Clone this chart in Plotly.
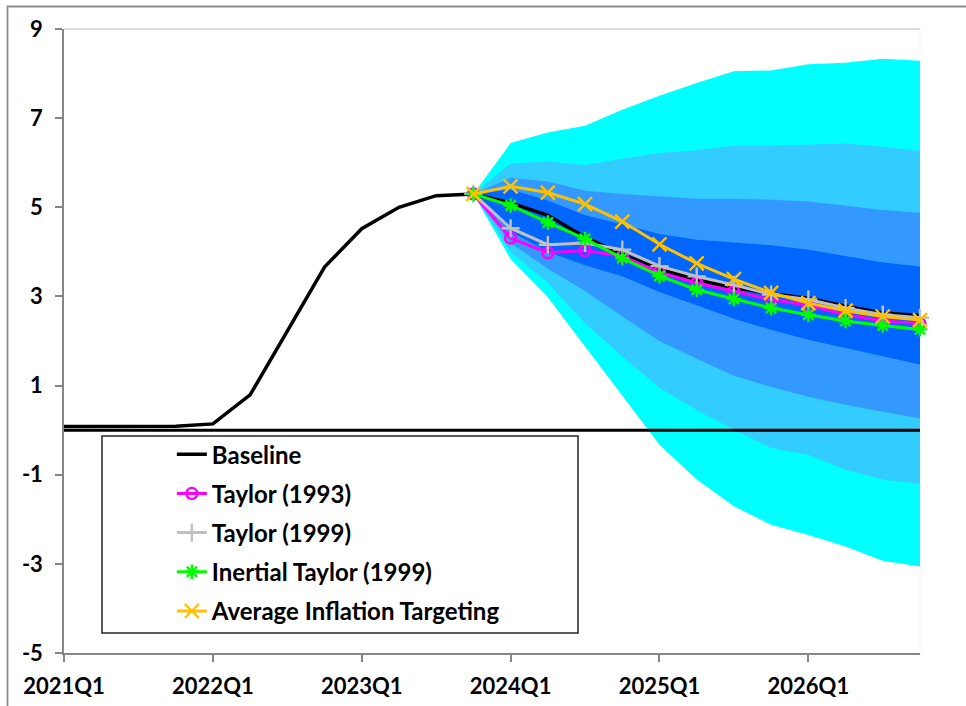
import plotly.graph_objects as go

quarters = ["2021Q1", "2021Q2", "2021Q3", "2021Q4",
            "2022Q1", "2022Q2", "2022Q3", "2022Q4",
            "2023Q1", "2023Q2", "2023Q3", "2023Q4",
            "2024Q1", "2024Q2", "2024Q3", "2024Q4",
            "2025Q1", "2025Q2", "2025Q3", "2025Q4",
            "2026Q1", "2026Q2", "2026Q3", "2026Q4"]
tick_labels = ["2021Q1", "2022Q1", "2023Q1", "2024Q1", "2025Q1", "2026Q1"]
y_ticks = [-5, -3, -1, 1, 3, 5, 7, 9]
y_tick_labels = ["-5", "-3", "-1", "1", "3", "5", "7", "9"]

baseline = [0.08, 0.08, 0.08, 0.09, 0.14, 0.79, 2.22, 3.66, 4.52, 5.00, 5.26, 5.30,
            5.10, 4.82, 4.33, 3.94, 3.62, 3.37, 3.20, 3.06, 2.96, 2.78, 2.63, 2.57]

forecast_q = quarters[11:]
taylor1993 = [5.30, 4.31, 3.98, 4.03, 3.90, 3.54, 3.30, 3.11, 2.93, 2.80, 2.59, 2.45, 2.39]
taylor1999 = [5.30, 4.53, 4.16, 4.20, 4.05, 3.68, 3.45, 3.26, 3.04, 2.93, 2.74, 2.59, 2.52]
inertial1999 = [5.30, 5.04, 4.66, 4.29, 3.86, 3.46, 3.15, 2.94, 2.74, 2.59, 2.45, 2.35, 2.26]
ait = [5.30, 5.47, 5.33, 5.07, 4.68, 4.17, 3.74, 3.39, 3.08, 2.85, 2.68, 2.55, 2.47]

# fan chart band edges (forecast quarters)
band_outer_hi = [5.30, 6.44, 6.68, 6.83, 7.19, 7.50, 7.79, 8.05, 8.07, 8.21, 8.24, 8.33, 8.29]
band_outer_lo = [5.30, 3.84, 2.98, 1.88, 0.78, -0.33, -1.11, -1.71, -2.12, -2.35, -2.61, -2.93, -3.06]
band_2_hi = [5.30, 5.98, 6.03, 5.95, 6.09, 6.22, 6.28, 6.38, 6.38, 6.40, 6.43, 6.36, 6.27]
band_2_lo = [5.30, 4.00, 3.30, 2.40, 1.65, 0.95, 0.45, 0.01, -0.40, -0.55, -0.89, -1.11, -1.20]
band_3_hi = [5.30, 5.66, 5.58, 5.37, 5.30, 5.24, 5.19, 5.19, 5.17, 5.13, 5.03, 4.94, 4.88]
band_3_lo = [5.30, 4.20, 3.62, 3.12, 2.55, 2.00, 1.60, 1.22, 0.97, 0.75, 0.57, 0.41, 0.26]
band_4_hi = [5.30, 5.40, 5.15, 4.82, 4.62, 4.40, 4.27, 4.21, 4.15, 4.05, 3.90, 3.76, 3.67]
band_4_lo = [5.30, 4.45, 4.00, 3.70, 3.45, 3.10, 2.80, 2.50, 2.25, 2.03, 1.84, 1.66, 1.47]

band_colors = ["#00FFFF", "#33CCFF", "#3399FF", "#0066FF"]
bands = [(band_outer_hi, band_outer_lo), (band_2_hi, band_2_lo),
         (band_3_hi, band_3_lo), (band_4_hi, band_4_lo)]

FONT = "Lato"
fig = go.Figure()

for (hi, lo), col in zip(bands, band_colors):
    fig.add_trace(go.Scatter(
        x=forecast_q + forecast_q[::-1], y=hi + lo[::-1],
        fill="toself", fillcolor=col, mode="lines", line=dict(width=0, color=col),
        showlegend=False, hoverinfo="skip"))

series = [
    ("Baseline", quarters, baseline, "#000000", None, 0),
    ("Taylor (1993)", forecast_q, taylor1993, "#FF00FF", "circle-open", 11),
    ("Taylor (1999)", forecast_q, taylor1999, "#C0C0C0", "cross-thin-open", 13),
    ("Inertial Taylor (1999)", forecast_q, inertial1999, "#00FF00", "asterisk-open", 12),
    ("Average Inflation Targeting", forecast_q, ait, "#FFC000", "x-thin-open", 14),
]
for i, (name, xs, ys, col, sym, sz) in enumerate(series):
    if sym is None:
        fig.add_trace(go.Scatter(x=xs, y=ys, name=name, mode="lines",
                                 line=dict(color=col, width=3.5),
                                 legendgroup=f"g{i}", cliponaxis=False))
    else:
        fig.add_trace(go.Scatter(x=xs, y=ys, name=name, mode="lines+markers",
                                 line=dict(color=col, width=3),
                                 marker=dict(symbol=sym, size=sz, color=col,
                                             line=dict(color=col, width=2.4)),
                                 legendgroup=f"g{i}", cliponaxis=False))

fig.update_layout(
    width=966, height=706,
    margin=dict(l=64, r=46, t=29, b=53, autoexpand=False),
    paper_bgcolor="white", plot_bgcolor="white",
    font=dict(family=FONT, size=20, color="black", weight="bold"),
    showlegend=True,
    legend=dict(x=0.126, y=0.354, xanchor="left", yanchor="top",
                bgcolor="rgba(0,0,0,0)", borderwidth=0,
                traceorder="grouped", tracegroupgap=5,
                font=dict(family=FONT, size=24, color="black", weight="bold"),
                itemwidth=30),
    xaxis=dict(type="category", categoryorder="array", categoryarray=quarters,
               range=[0, 23], tickmode="array", tickvals=tick_labels, ticktext=tick_labels,
               showgrid=False, zeroline=False, showline=True, linecolor="#868686", linewidth=1.5,
               ticks="outside", ticklen=7, tickcolor="#868686", tickwidth=1.5,
               ticklabelstandoff=6, automargin=False,
               tickfont=dict(family=FONT, size=22, color="black", weight="bold")),
    yaxis=dict(range=[-5, 9], tickmode="array", tickvals=y_ticks, ticktext=y_tick_labels,
               showgrid=False, zeroline=False, showline=True, linecolor="#868686", linewidth=1.5,
               ticks="outside", ticklen=7, tickcolor="#868686", tickwidth=1.5,
               ticklabelstandoff=8, automargin=False,
               tickfont=dict(family=FONT, size=22, color="black", weight="bold")),
    shapes=[
        # zero line
        dict(type="line", xref="x domain", yref="y", x0=0, x1=1, y0=0, y1=0,
             line=dict(color="black", width=3), layer="above"),
        # plot area top/right border
        dict(type="line", xref="paper", yref="paper", x0=0, x1=1, y0=1, y1=1,
             line=dict(color="#D0D0D0", width=1.5), layer="below"),
        dict(type="line", xref="paper", yref="paper", x0=1, x1=1, y0=0, y1=1,
             line=dict(color="#F2F2F2", width=1), layer="below"),
        # legend box
        dict(type="rect", xref="paper", yref="paper",
             x0=(102 - 64) / 856, x1=(578 - 64) / 856,
             y0=(653 - 633) / 624, y1=(653 - 436) / 624,
             line=dict(color="#262626", width=1.5), fillcolor="white", layer="above"),
        # outer chart border
        dict(type="rect", xref="paper", yref="paper",
             x0=(7.5 - 64) / 856, x1=1.3, y0=-0.3, y1=(653 - 6.5) / 624,
             line=dict(color="#8C8C8C", width=1.8), fillcolor="rgba(0,0,0,0)", layer="above"),
    ],
)

fig.write_html("out.html", config={"displayModeBar": False},
               post_script="document.body.style.margin='0';document.body.style.overflow='hidden';")
